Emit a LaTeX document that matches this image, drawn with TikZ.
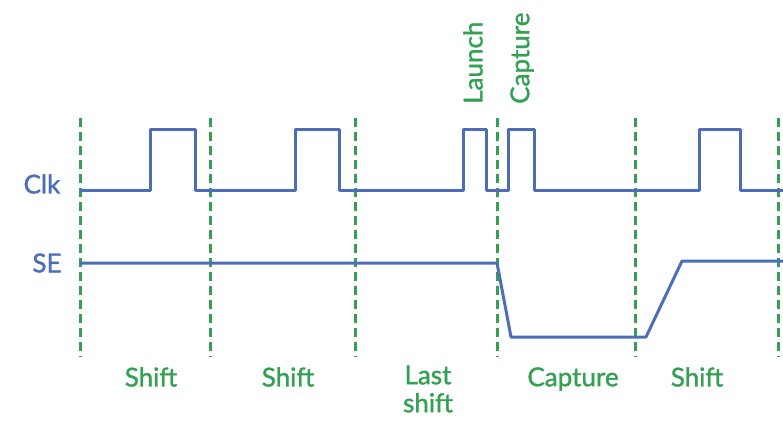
\documentclass[tikz,border=0pt]{standalone}
\usepackage{fontspec}
\setmainfont{Lato}
\newfontfamily\labfont[FakeBold=1.4]{Lato}
\definecolor{wave}{RGB}{78,108,188}
\definecolor{mark}{RGB}{52,160,84}
\tikzset{
  sig/.style={draw=wave, line width=3pt, line join=round},
  bound/.style={draw=mark, line width=3pt, dash pattern=on 9pt off 5pt},
  lab/.style={text=mark, font=\labfont\fontsize{26}{28}\selectfont, inner sep=0pt, align=center},
  siglab/.style={text=wave, font=\labfont\fontsize{26}{27}\selectfont, inner sep=0pt},
}
\begin{document}
\begin{tikzpicture}[x=1pt,y=-1pt]
\useasboundingbox (0,0) rectangle (783,421);
% boundaries
\foreach \x/\n in {80/b1,210/b2,355/b3,497/b4,635/b5,778/b6}{
  \coordinate (\n t) at (\x,118);
  \coordinate (\n b) at (\x,357);
  \draw[bound] (\n t) -- (\n b);
}
% signal labels
\node[siglab] (clk) at (42,184) {Clk};
\node[siglab] (se) at (47,263) {SE};
% clock
\draw[sig] (80,190) -- (150,190) -- (150,129) -- (195,129) -- (195,190)
  -- (295,190) -- (295,129) -- (339,129) -- (339,190)
  -- (463,190) -- (463,129) -- (486,129) -- (486,190)
  -- (508,190) -- (508,129) -- (534,129) -- (534,190)
  -- (699,190) -- (699,129) -- (740,129) -- (740,190) -- (783,190);
% scan enable
\draw[sig] (80,263) -- (497,263) -- (511,337) -- (646,337) -- (682,261) -- (783,261);
% rotated labels
\node[lab, rotate=90, anchor=west] (launch) at (473,104) {Launch};
\node[lab, rotate=90, anchor=west] (capt) at (522,104) {Capture};
% phase labels
\node[lab] (p1) at (151,377) {Shift};
\node[lab] (p2) at (288,377) {Shift};
\node[lab] (p3) at (428,389) {Last\\shift};
\node[lab] (p4) at (573,379) {Capture};
\node[lab] (p5) at (697,377) {Shift};
\end{tikzpicture}
\end{document}
